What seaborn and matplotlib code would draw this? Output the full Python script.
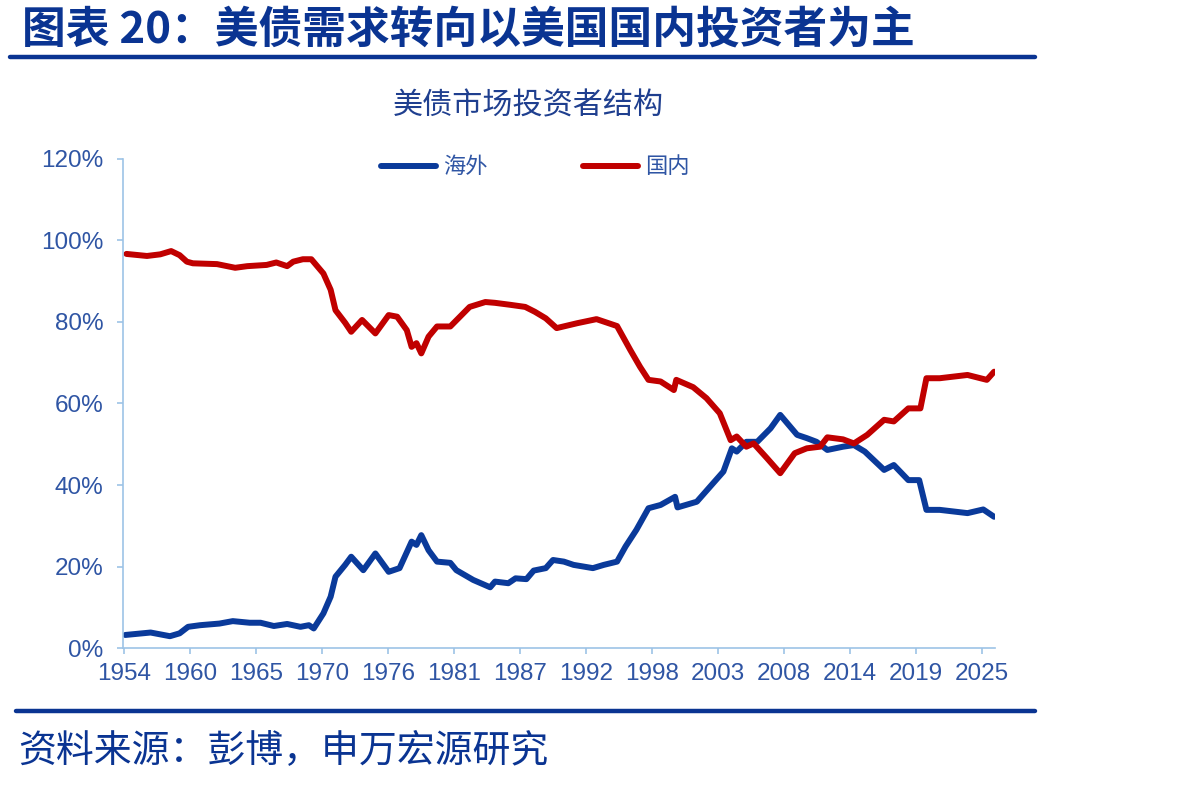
#美债市场投资者结构 - 海外 vs 国内

#Imports
import matplotlib
matplotlib.use('Agg')
import matplotlib.pyplot as plt
import seaborn as sns
import pandas as pd
from matplotlib.lines import Line2D

#Dados (em %)
anos_haiwai = [1954.1, 1956.2, 1957.8, 1958.6, 1959.3, 1960.3, 1961.9, 1963.0, 1964.4, 1965.3,
               1966.4, 1967.5, 1968.6, 1969.3, 1969.7, 1970.5, 1971.1, 1971.5, 1972.3, 1972.8,
               1973.8, 1974.8, 1975.9, 1976.8, 1977.8, 1978.2, 1978.6, 1979.2, 1979.9, 1981.0,
               1981.5, 1982.9, 1984.3, 1984.7, 1985.8, 1986.4, 1987.3, 1987.9, 1988.9, 1989.5,
               1990.4, 1991.2, 1992.8, 1993.7, 1994.8, 1995.5, 1996.4, 1997.4, 1998.4, 1999.6,
               1999.8, 2001.4, 2002.5, 2003.6, 2004.3, 2004.7, 2005.5, 2006.4, 2007.5, 2008.3,
               2009.7, 2010.5, 2011.3, 2012.2, 2013.5, 2014.4, 2015.3, 2016.9, 2017.7, 2018.9,
               2019.8, 2020.4, 2021.5, 2023.8, 2025.1, 2026.0]
haiwai = [3.2, 3.8, 2.9, 3.6, 5.2, 5.6, 6.0, 6.6, 6.2, 6.2,
          5.4, 5.9, 5.2, 5.6, 4.8, 8.5, 12.6, 17.5, 20.4, 22.4,
          19.1, 23.2, 18.7, 19.6, 26.1, 25.3, 27.7, 24.0, 21.2, 20.9,
          19.1, 16.7, 14.9, 16.3, 15.9, 17.1, 16.9, 19.0, 19.6, 21.6,
          21.2, 20.4, 19.6, 20.4, 21.2, 24.9, 29.0, 34.3, 35.1, 37.1,
          34.5, 35.9, 39.6, 43.3, 49.0, 48.2, 50.6, 50.6, 53.9, 57.2,
          52.3, 51.5, 50.6, 48.6, 49.4, 49.8, 48.2, 43.7, 44.9, 41.2,
          41.2, 33.9, 33.9, 33.1, 34.0, 32.2]

anos_guonei = [1954.2, 1955.9, 1957.0, 1957.9, 1958.6, 1959.2, 1959.7, 1961.7, 1963.2, 1964.2,
               1965.8, 1966.6, 1967.5, 1968.0, 1968.8, 1969.5, 1970.5, 1971.1, 1971.5, 1972.3,
               1972.8, 1973.7, 1974.8, 1975.9, 1976.6, 1977.4, 1977.8, 1978.2, 1978.6, 1979.2,
               1979.9, 1981.0, 1981.8, 1982.6, 1983.9, 1984.7, 1986.0, 1987.2, 1988.0, 1988.9,
               1989.8, 1991.5, 1993.1, 1994.8, 1995.9, 1996.7, 1997.4, 1998.4, 1999.5, 1999.7,
               2001.1, 2002.2, 2003.3, 2004.2, 2004.7, 2005.5, 2006.1, 2007.2, 2008.3, 2009.5,
               2010.5, 2011.6, 2012.2, 2013.5, 2014.4, 2015.5, 2016.9, 2017.7, 2018.9, 2019.9,
               2020.4, 2021.5, 2023.8, 2025.4, 2026.0]
guonei = [96.7, 96.2, 96.6, 97.4, 96.4, 94.8, 94.4, 94.2, 93.3, 93.7,
          94.0, 94.6, 93.7, 94.8, 95.4, 95.4, 91.9, 87.9, 82.9, 79.8,
          77.6, 80.5, 77.2, 81.7, 81.3, 78.0, 73.9, 74.8, 72.3, 76.4,
          78.9, 78.9, 81.3, 83.7, 84.9, 84.7, 84.2, 83.7, 82.5, 80.9,
          78.5, 79.7, 80.7, 79.0, 73.1, 69.0, 65.8, 65.4, 63.3, 65.8,
          64.0, 61.3, 57.6, 51.0, 51.9, 49.4, 50.2, 46.6, 42.9, 47.8,
          49.0, 49.4, 51.7, 51.2, 50.2, 52.3, 56.0, 55.6, 58.8, 58.8,
          66.2, 66.2, 67.0, 65.8, 67.8]

rotulos_x = ['1954', '1960', '1965', '1970', '1976', '1981', '1987',
             '1992', '1998', '2003', '2008', '2014', '2019', '2025']

df_haiwai = pd.DataFrame({'ano': anos_haiwai, 'valor': haiwai})
df_guonei = pd.DataFrame({'ano': anos_guonei, 'valor': guonei})

#Estilo
sns.set_style('white')
plt.rcParams['font.family'] = ['Noto Sans CJK SC', 'DejaVu Sans']

azul = '#0a3a9a'
vermelho = '#c00000'
eixo = '#9dc3e6'
texto = '#2f55a4'

#Gráfico
fig = plt.figure(figsize = (11.9, 7.87), dpi = 100)
ax = fig.add_axes([0.1034, 0.1766, 0.7330, 0.6214])

sns.lineplot(data = df_haiwai, x = 'ano', y = 'valor', color = azul, lw = 4.3,
             label = '海外', ax = ax, estimator = None, sort = False)
sns.lineplot(data = df_guonei, x = 'ano', y = 'valor', color = vermelho, lw = 4.3,
             label = '国内', ax = ax, estimator = None, sort = False)

ax.set_xlim(1953.92, 2026.1)
ax.set_ylim(0, 120)
pos_x = [1954 + k * 71 / 13 for k in range(len(rotulos_x))]
ax.set_xticks(pos_x)
ax.set_xticklabels(rotulos_x)
ax.set_yticks(range(0, 121, 20))
ax.set_yticklabels([f'{v}%' for v in range(0, 121, 20)])
ax.set_xlabel('')
ax.set_ylabel('')

for lado in ['top', 'right']:
    ax.spines[lado].set_visible(False)
for lado in ['left', 'bottom']:
    ax.spines[lado].set_color(eixo)
    ax.spines[lado].set_linewidth(1.2)
ax.tick_params(axis = 'both', colors = eixo, labelcolor = texto, length = 4, width = 1.2,
               labelsize = 17.5)
ax.tick_params(axis = 'y', pad = 10)
ax.tick_params(axis = 'x', pad = 7)
ax.tick_params(left = True, bottom = True)
for t in ax.get_xticklabels() + ax.get_yticklabels():
    t.set_family(['Liberation Sans', 'DejaVu Sans'])

#Legenda
ax.get_legend().remove()
h, l = ax.get_legend_handles_labels()
leg = fig.legend(h, l, loc = 'center', bbox_to_anchor = (0.4496, 0.788), ncol = 2,
                 frameon = False, fontsize = 16, handlelength = 2.5, handletextpad = 0.3,
                 columnspacing = 4.3)
for t in leg.get_texts():
    t.set_color(texto)

#Títulos e fonte
fig.text(0.0185, 0.962, '图表 20：美债需求转向以美国国内投资者为主', fontsize = 31.5,
         fontweight = 'heavy', color = '#0a3492', va = 'center', ha = 'left')
fig.text(0.4437, 0.865, '美债市场投资者结构', fontsize = 21.7, color = '#1f3f8f',
         va = 'center', ha = 'center')
fig.text(0.015, 0.0445, '资料来源：彭博，申万宏源研究', fontsize = 27.3, color = '#0a3492',
         va = 'center', ha = 'left')
fig.add_artist(Line2D([0.0084, 0.87], [0.9276, 0.9276], color = '#0a3492', lw = 3.2))
fig.add_artist(Line2D([0.0134, 0.87], [0.0966, 0.0966], color = '#0a3492', lw = 3.2))

plt.savefig('out.png', dpi = 100)
